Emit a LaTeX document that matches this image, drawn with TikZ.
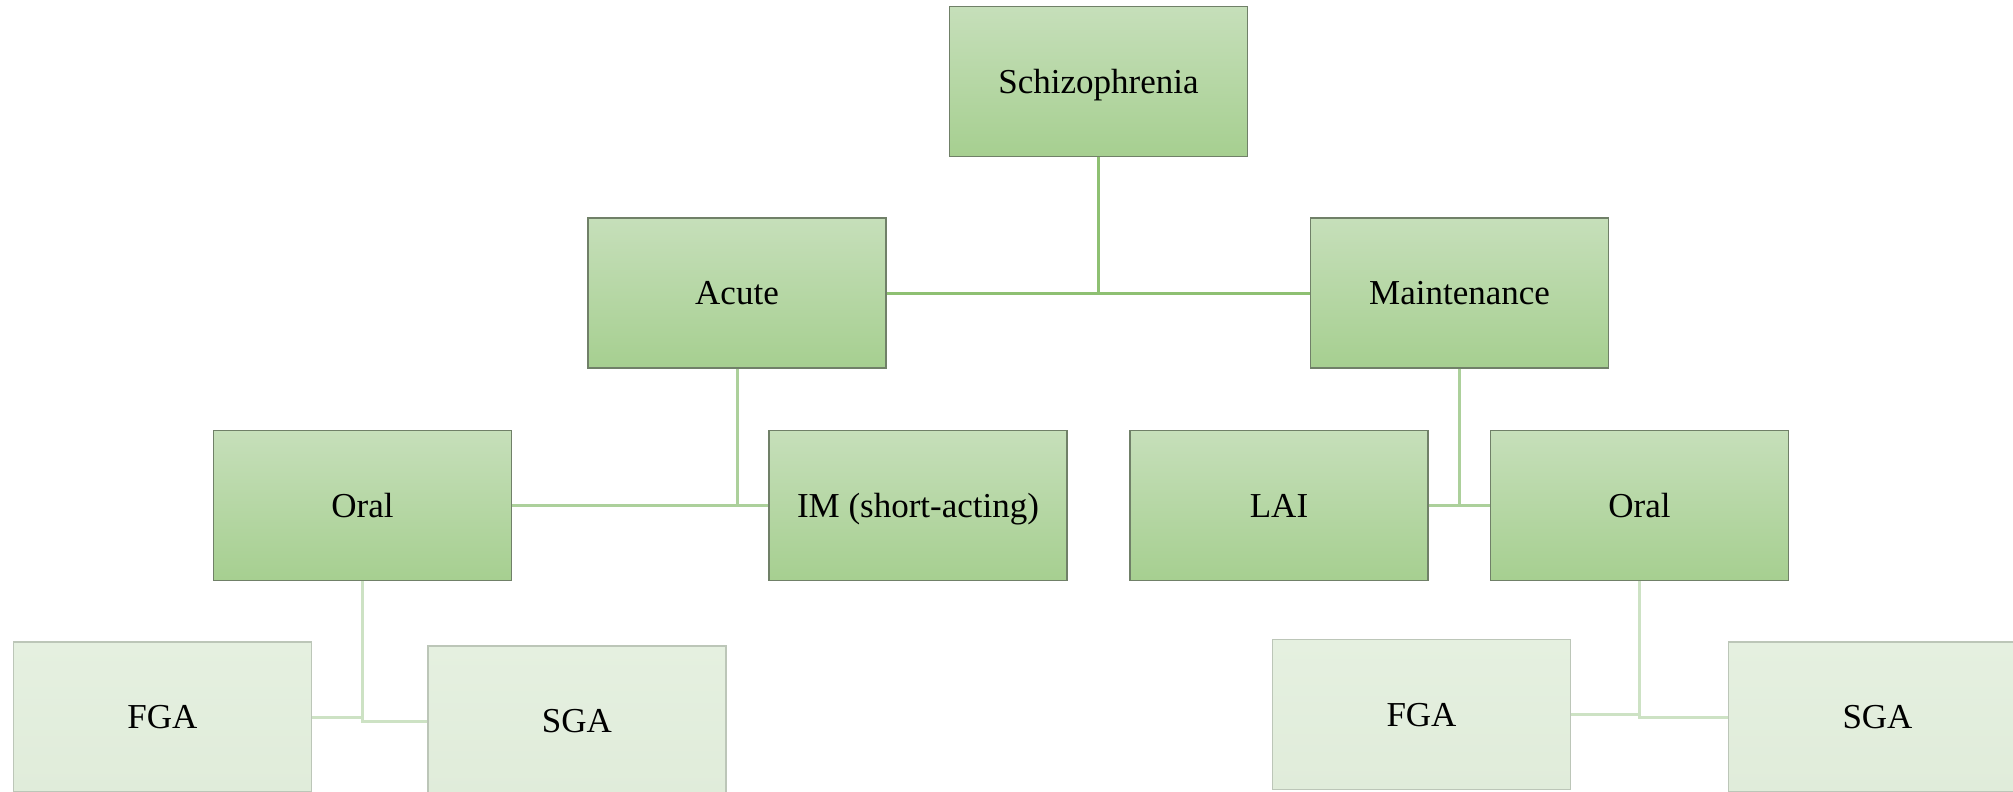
\documentclass[tikz,border=0pt]{standalone}
\usepackage{fontspec}
\setmainfont{Liberation Serif}
\definecolor{gtop}{RGB}{198,223,186}
\definecolor{gbot}{RGB}{166,207,144}
\definecolor{gedge}{RGB}{112,128,104}
\definecolor{ltop}{RGB}{229,240,224}
\definecolor{lbot}{RGB}{224,236,218}
\definecolor{ledge}{RGB}{188,198,184}
\definecolor{cdark}{RGB}{142,192,114}
\definecolor{cmid}{RGB}{172,208,155}
\definecolor{clight}{RGB}{205,226,196}
\tikzset{
  darkbox/.style={draw=gedge, line width=1.6pt, top color=gtop, bottom color=gbot,
    minimum width=298pt, minimum height=150pt, inner sep=0pt,
    text height=23pt, text depth=0pt,
    font=\fontsize{35}{40}\selectfont},
  lightbox/.style={draw=ledge, line width=1.6pt, top color=ltop, bottom color=lbot,
    minimum width=298pt, minimum height=150pt, inner sep=0pt,
    text height=23pt, text depth=0pt,
    font=\fontsize{35}{40}\selectfont},
  darkline/.style={draw=cdark, line width=3pt},
  midline/.style={draw=cmid, line width=3pt},
  lightline/.style={draw=clight, line width=3pt},
}
\begin{document}
\begin{tikzpicture}[x=1pt,y=-1pt]
\useasboundingbox (0,0) rectangle (2013,792);
\draw[darkline] (1098.5,157) -- (1098.5,293);
\draw[darkline] (886,293) -- (1310,293);
\node[darkbox] (schiz) at (1098.5,81.5) {Schizophrenia};
\node[darkbox] (acute) at (737,293) {Acute};
\node[darkbox] (maint) at (1459.5,293) {Maintenance};
\node[darkbox] (oralL) at (362.5,505.5) {Oral};
\node[darkbox] (im) at (918,505.5) {IM (short-acting)};
\node[darkbox] (lai) at (1279,505.5) {LAI};
\node[darkbox] (oralR) at (1639.5,505.5) {Oral};
\node[lightbox] (fgaL) at (162.5,717) {FGA};
\node[lightbox] (sgaL) at (577,721) {SGA};
\node[lightbox] (fgaR) at (1421.5,714.5) {FGA};
\node[lightbox] (sgaR) at (1877.5,717) {SGA};
\draw[midline] (oralL.east) -- (im.west);
\draw[midline] (acute.south) -- (acute.south |- oralL.east);
\draw[midline] (lai.east) -- (oralR.west);
\draw[midline] (maint.south) -- (maint.south |- lai.east);
\draw[lightline] (fgaL.east) -| (oralL.south);
\draw[lightline] (sgaL.west) -| (oralL.south);
\draw[lightline] (fgaR.east) -| (oralR.south);
\draw[lightline] (sgaR.west) -| (oralR.south);
\end{tikzpicture}
\end{document}
